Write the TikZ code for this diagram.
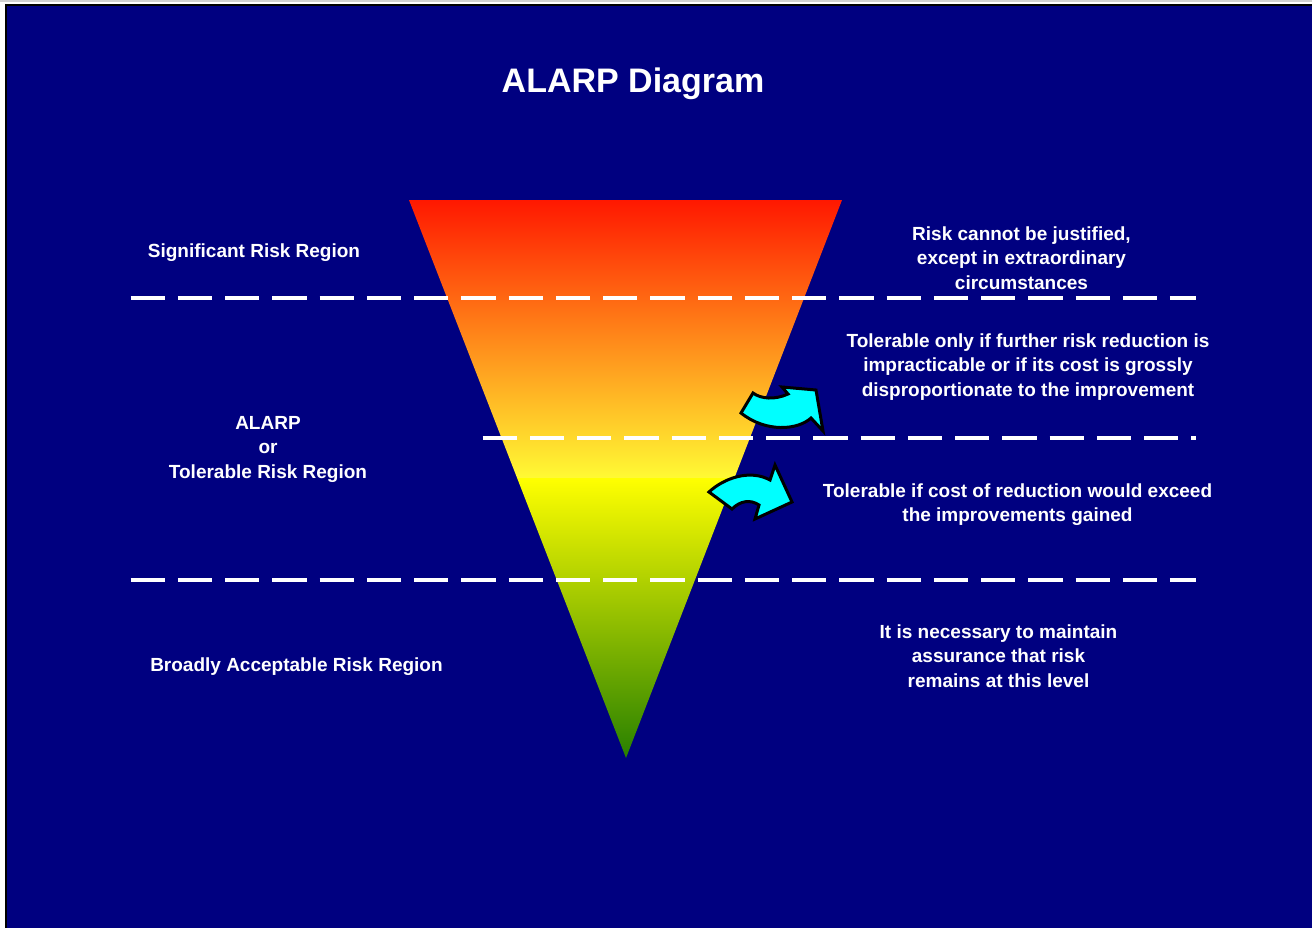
\documentclass[tikz,border=0pt]{standalone}
\usepackage{fontspec}
\setmainfont{Liberation Sans}
\begin{document}
\definecolor{navybg}{RGB}{0,0,128}
\definecolor{riskred}{RGB}{255,24,0}
\definecolor{riskorange}{RGB}{255,160,30}
\definecolor{riskpale}{RGB}{255,250,52}
\definecolor{safeyellow}{RGB}{255,255,0}
\definecolor{safeolive}{RGB}{200,205,0}
\definecolor{safegreen}{RGB}{40,128,0}
\definecolor{arrowcyan}{RGB}{0,255,255}
\begin{tikzpicture}[x=0.5pt,y=-0.5pt,
  label/.style={text=white,font=\fontsize{9.5}{12.25}\selectfont\bfseries,
    align=center,inner sep=0pt,anchor=north},
  boundary/.style={draw=white,line width=2pt,dash pattern=on 17.15pt off 6.47pt},
  bendarrow/.style={fill=arrowcyan,draw=black,line width=1.5pt,line join=miter}]
\useasboundingbox (0,0) rectangle (1312,928);
% slide frame
\fill[white] (0,0) rectangle (1312,928);
\fill[black!18] (0,0) rectangle (1312,2);
\fill[black] (5,4) rectangle (1312,928);
\fill[navybg] (6.5,5.5) rectangle (1312,928);

% title
\node[text=white,font=\fontsize{17}{20}\selectfont\bfseries,inner sep=0pt,anchor=base]
  (title) at (633,92) {ALARP Diagram};

% risk funnel: upper (tolerable/intolerable) and lower (acceptable) parts
\shade[top color=riskred,middle color=riskorange,bottom color=riskpale]
  (409,200) -- (842,200) -- (734.4,478) -- (517.1,478) -- cycle;
\shade[top color=safeyellow,middle color=safeolive,bottom color=safegreen]
  (517.1,478) -- (734.4,478) -- (626,758) -- cycle;

% region boundaries
\coordinate (b1l) at (130.7,298); \coordinate (b1r) at (1196,298);
\coordinate (b2l) at (482.7,438); \coordinate (b2r) at (1196,438);
\coordinate (b3l) at (130.7,580); \coordinate (b3r) at (1196,580);
\draw[boundary] (b1l) -- (b1r);
\draw[boundary] (b2l) -- (b2r);
\draw[boundary] (b3l) -- (b3r);

% curved block arrows
\draw[bendarrow] (753,393) .. controls (761,399) and (775,400) .. (788,394)
  -- (782,387) -- (816,390) -- (823,431) -- (811,418)
  .. controls (798,430) and (766,433) .. (741,413) -- cycle;
\draw[bendarrow] (709,492) .. controls (724,478) and (750,469) .. (770,480)
  -- (775,465) -- (792,502) -- (755,519) -- (759,505)
  .. controls (750,499) and (740,501) .. (732,509) -- cycle;

% region names
\node[label] (sig) at (254,243) {Significant Risk Region};
\node[label] (alarp) at (268,416) {ALARP\\or\\Tolerable Risk Region};
\node[label] (broad) at (296.5,657) {Broadly Acceptable Risk Region};

% region descriptions
\node[label] (d1) at (1021.5,226) {Risk cannot be justified,\\except in extraordinary\\circumstances};
\node[label] (d2) at (1028,333) {Tolerable only if further risk reduction is\\impracticable or if its cost is grossly\\disproportionate to the improvement};
\node[label] (d3) at (1017.5,483) {Tolerable if cost of reduction would exceed\\the improvements gained};
\node[label] (d4) at (998.5,624) {It is necessary to maintain\\assurance that risk\\remains at this level};
\end{tikzpicture}
\end{document}
